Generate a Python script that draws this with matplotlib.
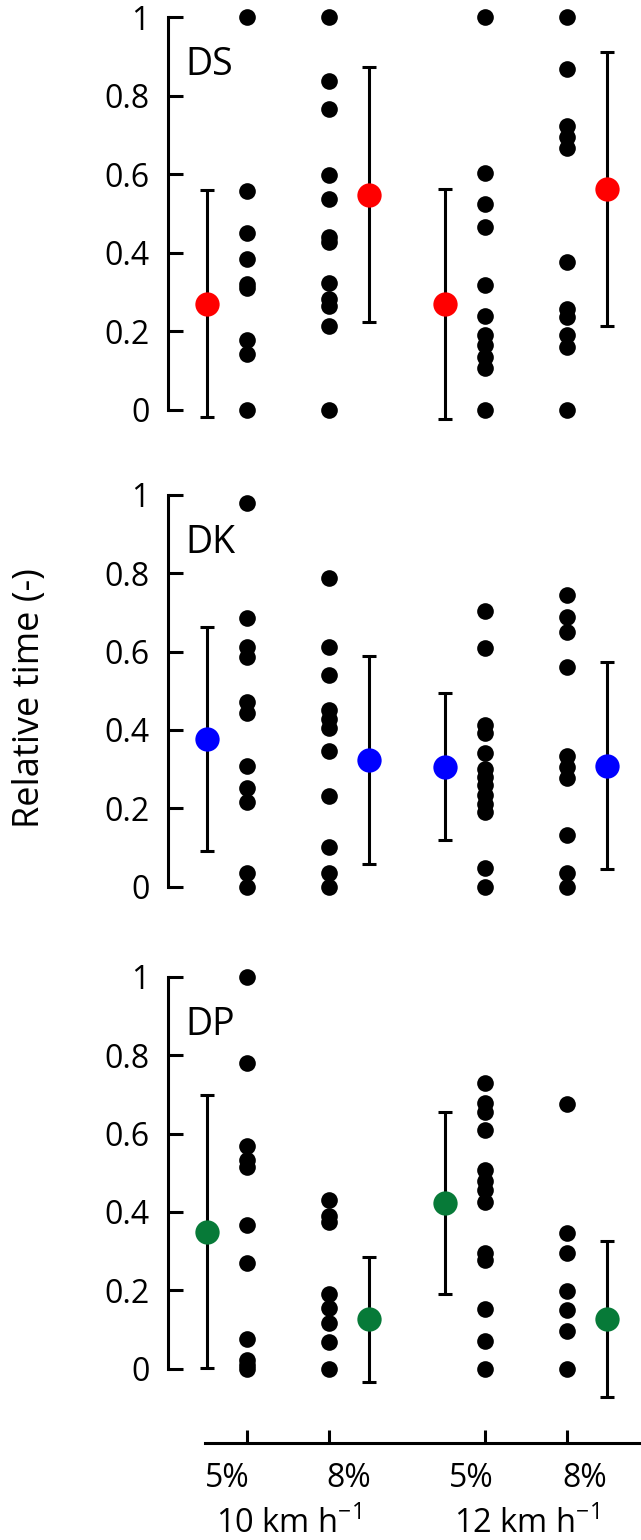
import matplotlib
matplotlib.use("Agg")
import matplotlib.pyplot as plt
from matplotlib import transforms

plt.rcParams["font.family"] = ["Open Sans", "DejaVu Sans"]
plt.rcParams["mathtext.fontset"] = "custom"
plt.rcParams["mathtext.rm"] = "Open Sans"

# ---------------------------------------------------
# DATA
# ---------------------------------------------------

positions = [1.0, 2.0, 3.9, 4.9]
slope_labels = ["5%", "8%", "5%", "8%"]
speed_labels = ["10 km h$^{-1}$", "12 km h$^{-1}$"]
panel_names = ["DS", "DK", "DP"]
mean_colors = ["#ff0000", "#0000ff", "#077a38"]

ds_points = [
    [1.0, 0.558, 0.451, 0.383, 0.321, 0.311, 0.177, 0.141, 0.0],
    [1.0, 0.837, 0.767, 0.597, 0.537, 0.439, 0.427, 0.323, 0.282, 0.265, 0.213, 0.0],
    [1.0, 0.604, 0.524, 0.466, 0.317, 0.238, 0.19, 0.165, 0.135, 0.105, 0.0],
    [1.0, 0.867, 0.723, 0.696, 0.666, 0.377, 0.255, 0.235, 0.19, 0.16, 0.0],
]
dk_points = [
    [0.978, 0.686, 0.612, 0.587, 0.472, 0.442, 0.309, 0.251, 0.217, 0.034, 0.0],
    [0.787, 0.611, 0.540, 0.451, 0.427, 0.406, 0.347, 0.231, 0.102, 0.034, 0.0],
    [0.704, 0.608, 0.412, 0.391, 0.340, 0.30, 0.28, 0.26, 0.235, 0.21, 0.19, 0.047, 0.0],
    [0.744, 0.687, 0.651, 0.561, 0.333, 0.305, 0.277, 0.132, 0.034, 0.0],
]
dp_points = [
    [1.0, 0.781, 0.568, 0.532, 0.514, 0.367, 0.270, 0.075, 0.022, 0.01, 0.0],
    [0.430, 0.39, 0.375, 0.190, 0.154, 0.116, 0.069, 0.0],
    [0.728, 0.677, 0.656, 0.609, 0.507, 0.48, 0.455, 0.425, 0.294, 0.277, 0.152, 0.071, 0.0],
    [0.675, 0.347, 0.296, 0.199, 0.151, 0.097, 0.0],
]

ds_mean = [0.270, 0.548, 0.269, 0.562]
ds_sd = [0.290, 0.326, 0.292, 0.350]
dk_mean = [0.376, 0.323, 0.306, 0.309]
dk_sd = [0.286, 0.266, 0.188, 0.264]
dp_mean = [0.349, 0.126, 0.423, 0.126]
dp_sd = [0.348, 0.159, 0.232, 0.199]

all_points = [ds_points, dk_points, dp_points]
all_means = [ds_mean, dk_mean, dp_mean]
all_sds = [ds_sd, dk_sd, dp_sd]

# ---------------------------------------------------
# LAYOUT (pixels of a 641 x 1540 figure)
# ---------------------------------------------------

W, H = 641, 1540
X_LIM = (0.037, 5.80)
Y_LIM = (-0.12, 1.04)
panel_zero_one = [(409.5, 17.3), (886.7, 494.7), (1368.7, 976.7)]
mean_offset = [-0.49, 0.49, -0.49, 0.49]
label_shift_px = [-20, 20, -14, 18]

fig = plt.figure(figsize=(W / 100, H / 100), dpi=100)

left = 168 / W
width = 1 - left

for k in range(3):
    y0, y1 = panel_zero_one[k]
    per_unit = y0 - y1
    top_px = y1 - (Y_LIM[1] - 1) * per_unit
    bot_px = y0 - Y_LIM[0] * per_unit
    ax = fig.add_axes([left, 1 - bot_px / H, width, (bot_px - top_px) / H])

    for i, x in enumerate(positions):
        pts = all_points[k][i]
        ax.plot([x] * len(pts), pts, "o", color="black", markersize=12,
                markeredgewidth=0, clip_on=False, zorder=3)
        xm = x + mean_offset[i]
        ax.errorbar(xm, all_means[k][i], yerr=all_sds[k][i], fmt="none",
                    ecolor="black", elinewidth=2.2, capsize=5, capthick=2.2,
                    clip_on=False, zorder=2)
        ax.plot(xm, all_means[k][i], "o", color=mean_colors[k],
                markersize=17.5, markeredgewidth=0, clip_on=False, zorder=4)

    ax.text(0.244, 0.852, panel_names[k], fontsize=27, va="baseline", ha="left")

    ax.set_xlim(*X_LIM)
    ax.set_ylim(*Y_LIM)
    ax.set_yticks([0, 0.2, 0.4, 0.6, 0.8, 1.0])
    ax.set_yticklabels(["0", "0.2", "0.4", "0.6", "0.8", "1"])
    ax.set_xticks([])
    for s in ["top", "right", "bottom"]:
        ax.spines[s].set_visible(False)
    ax.spines["left"].set_bounds(0, 1)
    ax.spines["left"].set_linewidth(2.2)
    ax.tick_params(axis="y", direction="in", length=11, width=2.2,
                   labelsize=23, pad=13)
    ax.patch.set_alpha(0)

# bottom category axis
axb = fig.add_axes([left, 1 - 1442.7 / H, width, 0.001])
axb.set_xlim(*X_LIM)
axb.set_yticks([])
for s in ["top", "right", "left"]:
    axb.spines[s].set_visible(False)
axb.spines["bottom"].set_bounds(0.488, X_LIM[1])
axb.spines["bottom"].set_linewidth(2.2)
axb.set_xticks(positions)
axb.set_xticklabels(slope_labels)
axb.tick_params(axis="x", direction="in", length=9.5, width=2.2,
                labelsize=23, pad=14)
axb.patch.set_alpha(0)
for lab, dx in zip(axb.get_xticklabels(), label_shift_px):
    lab.set_transform(lab.get_transform()
                      + transforms.ScaledTranslation(dx / 100, 0, fig.dpi_scale_trans))

blend = transforms.blended_transform_factory(axb.transData, fig.transFigure)
for j, lab in enumerate(speed_labels):
    xc = (positions[2 * j] + positions[2 * j + 1]) / 2
    fig.text(xc, 1 - 1533 / H, lab, transform=blend,
             fontsize=23.5, ha="center", va="baseline")

fig.text(30 / W, 1 - 698 / H, "Relative time (-)", rotation=90,
         fontsize=26, ha="center", va="center")

fig.savefig("out.png", dpi=100)
